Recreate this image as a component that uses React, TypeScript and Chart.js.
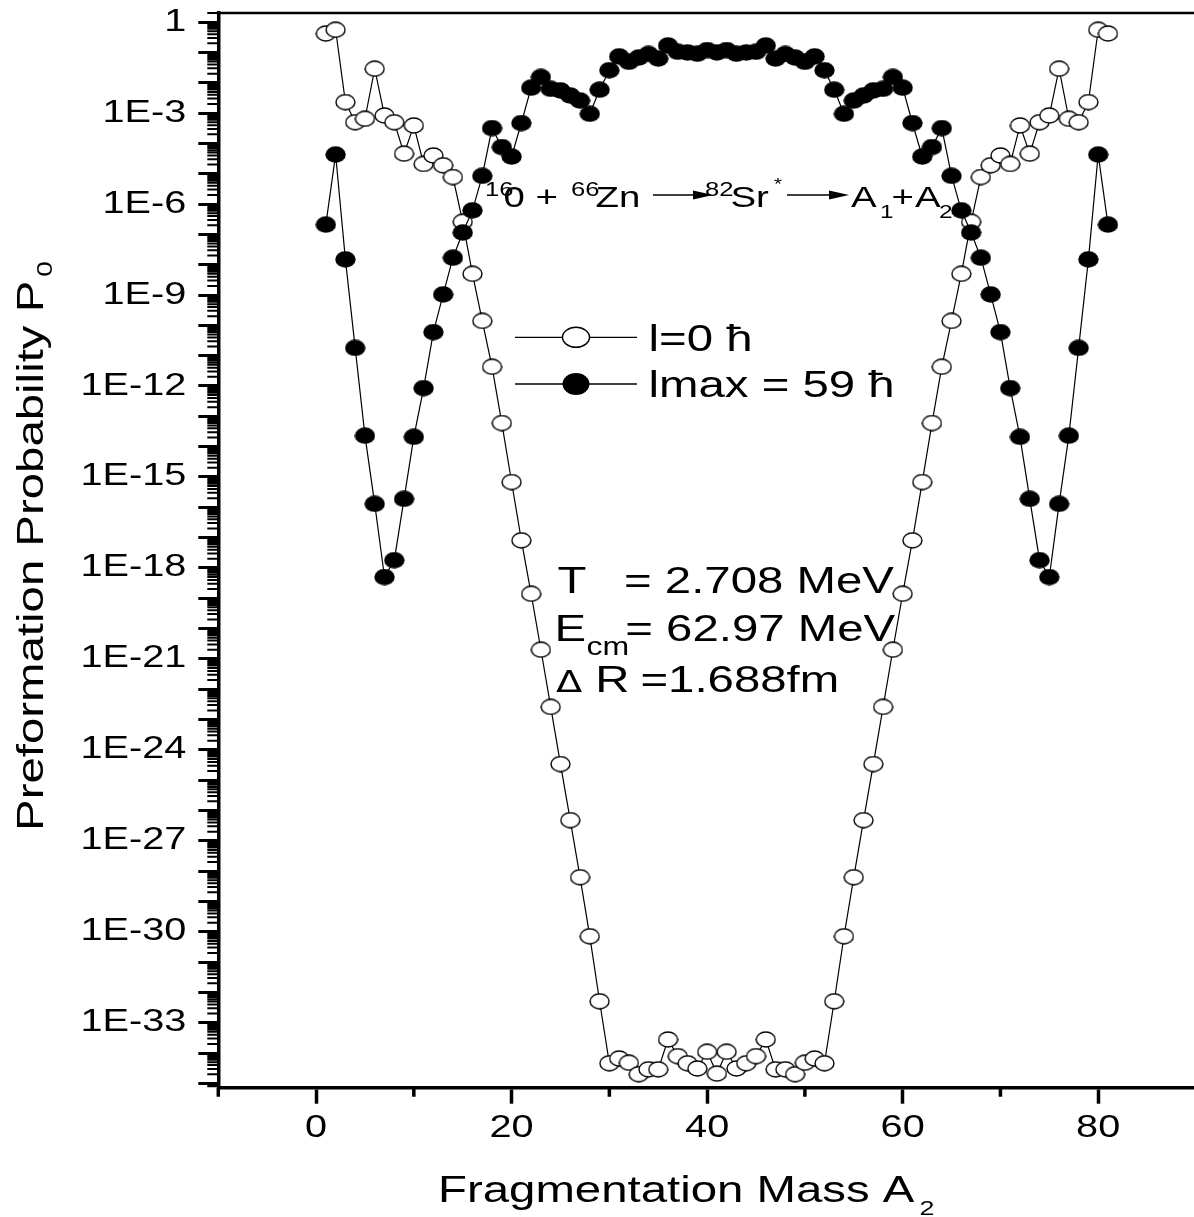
import React, { useEffect, useRef } from "react";
import { Chart, registerables } from "chart.js";

Chart.register(...registerables);

// ---------------- data ----------------
const massA2 = [
  1, 2, 3, 4, 5, 6, 7, 8, 9, 10, 11, 12, 13, 14, 15, 16, 17, 18, 19, 20,
  21, 22, 23, 24, 25, 26, 27, 28, 29, 30, 31, 32, 33, 34, 35, 36, 37, 38, 39, 40,
  41, 42, 43, 44, 45, 46, 47, 48, 49, 50, 51, 52, 53, 54, 55, 56, 57, 58, 59, 60,
  61, 62, 63, 64, 65, 66, 67, 68, 69, 70, 71, 72, 73, 74, 75, 76, 77, 78, 79, 80, 81,
];

// l = 0 hbar (open circles)
const p0L0 = [
  4.2e-1, 5.6e-1, 2.3e-3, 5.0e-4, 6.5e-4, 2.9e-2, 8.3e-4, 5.0e-4, 4.6e-5, 3.9e-4,
  2.1e-5, 4.0e-5, 1.9e-5, 7.8e-6, 2.6e-7, 5.0e-9, 1.4e-10, 4.3e-12, 6.0e-14, 6.8e-16,
  8.1e-18, 1.4e-19, 2.0e-21, 2.6e-23, 3.4e-25, 4.8e-27, 6.3e-29, 7.1e-31, 5.1e-33, 4.6e-35,
  6.6e-35, 4.8e-35, 2.0e-35, 2.9e-35, 2.9e-35, 2.8e-34, 7.9e-35, 4.6e-35, 3.1e-35, 1.1e-34,
  2.1e-35,
  1.1e-34, 3.1e-35, 4.6e-35, 7.9e-35, 2.8e-34, 2.9e-35, 2.9e-35, 2.0e-35, 4.8e-35, 6.6e-35,
  4.6e-35, 5.1e-33, 7.1e-31, 6.3e-29, 4.8e-27, 3.4e-25, 2.6e-23, 2.0e-21, 1.4e-19, 8.1e-18,
  6.8e-16, 6.0e-14, 4.3e-12, 1.4e-10, 5.0e-9, 2.6e-7, 7.8e-6, 1.9e-5, 4.0e-5, 2.1e-5,
  3.9e-4, 4.6e-5, 5.0e-4, 8.3e-4, 2.9e-2, 6.5e-4, 5.0e-4, 2.3e-3, 5.6e-1, 4.2e-1,
];

// lmax = 59 hbar (filled circles)
const p0Lmax = [
  2.1e-7, 4.3e-5, 1.5e-8, 1.8e-11, 2.3e-14, 1.3e-16, 5.0e-19, 1.8e-18, 1.9e-16, 2.1e-14,
  8.5e-13, 6.0e-11, 1.05e-9, 1.7e-8, 1.15e-7, 6.2e-7, 8.5e-6, 3.2e-4, 7.6e-5, 3.7e-5,
  4.7e-4, 6.9e-3, 1.55e-2, 6.3e-3, 5.6e-3, 3.8e-3, 2.6e-3, 9.5e-4, 5.9e-3, 2.6e-2,
  7.4e-2, 4.9e-2, 6.8e-2, 8.9e-2, 6.3e-2, 1.7e-1, 1.05e-1, 1.0e-1, 9.1e-2, 1.2e-1,
  1.0e-1,
  1.2e-1, 9.1e-2, 1.0e-1, 1.05e-1, 1.7e-1, 6.3e-2, 8.9e-2, 6.8e-2, 4.9e-2, 7.4e-2,
  2.6e-2, 5.9e-3, 9.5e-4, 2.6e-3, 3.8e-3, 5.6e-3, 6.3e-3, 1.55e-2, 6.9e-3, 4.7e-4,
  3.7e-5, 7.6e-5, 3.2e-4, 8.5e-6, 6.2e-7, 1.15e-7, 1.7e-8, 1.05e-9, 6.0e-11, 8.5e-13,
  2.1e-14, 1.9e-16, 1.8e-18, 5.0e-19, 1.3e-16, 2.3e-14, 1.8e-11, 1.5e-8, 4.3e-5, 2.1e-7,
];

const seriesLabels = ["l=0 \u0127", "lmax = 59 \u0127"];

const xTickValues = [0, 20, 40, 60, 80];
const xMinorTickValues = [-10, 10, 30, 50, 70];
const yLabelledExponents = [0, -3, -6, -9, -12, -15, -18, -21, -24, -27, -30, -33];
const yTickLabels = [
  "1", "1E-3", "1E-6", "1E-9", "1E-12", "1E-15", "1E-18", "1E-21", "1E-24", "1E-27", "1E-30", "1E-33",
];

const xTitle = "Fragmentation Mass A";
const xTitleSub = "2";
const yTitle = "Preformation Probability P";
const yTitleSub = "0";

// ---------------- layout / style ----------------
const W = 1194;
const H = 1217;
const SX = 1.28; // horizontal stretch of all text (as in the reference)
const FONT = '"Liberation Sans", Arial, Helvetica, sans-serif';
const PLOT_TOP = 13;
const PLOT_LEFT = 218.3;
const PLOT_BOTTOM = 1087.7;

function makeEllipse(w: number, h: number, filled: boolean, lw: number) {
  const c = document.createElement("canvas");
  c.width = w;
  c.height = h;
  const g = c.getContext("2d")!;
  g.beginPath();
  g.ellipse(w / 2, h / 2, w / 2 - lw / 2 - 0.3, h / 2 - lw / 2 - 0.3, 0, 0, Math.PI * 2);
  if (filled) {
    g.fillStyle = "#000";
    g.fill();
  } else {
    g.fillStyle = "#fff";
    g.fill();
    g.lineWidth = lw;
    g.strokeStyle = "#000";
    g.stroke();
  }
  return c;
}

function drawEllipse(ctx: CanvasRenderingContext2D, x: number, y: number, w: number, h: number, filled: boolean) {
  ctx.beginPath();
  ctx.ellipse(x, y, w / 2, h / 2, 0, 0, Math.PI * 2);
  if (filled) {
    ctx.fillStyle = "#000";
    ctx.fill();
  } else {
    ctx.fillStyle = "#fff";
    ctx.fill();
    ctx.lineWidth = 1.5;
    ctx.strokeStyle = "#000";
    ctx.stroke();
  }
}

function txt(ctx: CanvasRenderingContext2D, s: string, x: number, y: number, size: number, family: string = FONT) {
  ctx.font = `${size}px ${family}`;
  ctx.textAlign = "left";
  ctx.textBaseline = "alphabetic";
  ctx.fillStyle = "#000";
  ctx.fillText(s, x, y);
}

function arrow(ctx: CanvasRenderingContext2D, x1: number, x2: number, y: number) {
  ctx.strokeStyle = "#000";
  ctx.fillStyle = "#000";
  ctx.lineWidth = 1.6;
  ctx.beginPath();
  ctx.moveTo(x1, y);
  ctx.lineTo(x2 - 12, y);
  ctx.stroke();
  ctx.beginPath();
  ctx.moveTo(x2, y);
  ctx.lineTo(x2 - 20, y - 4.5);
  ctx.lineTo(x2 - 20, y + 4.5);
  ctx.closePath();
  ctx.fill();
}

const overlayPlugin = {
  id: "overlay",
  beforeDatasetsDraw(chart: any) {
    const ctx: CanvasRenderingContext2D = chart.ctx;
    const { left, top, bottom } = chart.chartArea;
    const xs = chart.scales.x;
    const ys = chart.scales.y;
    ctx.save();

    // top frame line
    ctx.strokeStyle = "#000";
    ctx.lineWidth = 2.7;
    ctx.beginPath();
    ctx.moveTo(left - 1.7, top);
    ctx.lineTo(W, top);
    ctx.stroke();

    // minor y ticks
    ctx.lineWidth = 2;
    ctx.beginPath();
    for (let e = -36; e <= 0; e++) {
      for (let m = 2; m <= 9; m++) {
        const v = m * Math.pow(10, e);
        if (v < ys.min || v > ys.max) continue;
        const py = ys.getPixelForValue(v);
        ctx.moveTo(left - 11, py);
        ctx.lineTo(left, py);
      }
    }
    ctx.stroke();

    // minor x ticks
    ctx.lineWidth = 3.5;
    ctx.beginPath();
    for (const v of xMinorTickValues) {
      const px = xs.getPixelForValue(v);
      ctx.moveTo(px, bottom);
      ctx.lineTo(px, bottom + 9);
    }
    ctx.stroke();

    // reaction text
    txt(ctx, "16", 485, 196, 20);
    txt(ctx, "0 +", 503.5, 207, 30);
    txt(ctx, "66", 571, 196, 20);
    txt(ctx, "Zn", 595.5, 207, 30);
    arrow(ctx, 653, 713, 195);
    txt(ctx, "82", 705, 196, 20);
    txt(ctx, "Sr", 730.5, 207, 30);
    txt(ctx, "*", 774, 190, 16);
    arrow(ctx, 787, 849, 195);
    txt(ctx, "A", 851, 207, 30);
    txt(ctx, "1", 880, 218, 19);
    txt(ctx, "+", 891.5, 207, 30);
    txt(ctx, "A", 915, 207, 30);
    txt(ctx, "2", 939, 218, 19);

    // legend
    const ds = chart.data.datasets;
    const legendRows = [
      { y: 337.3, filled: false, w: 27, h: 20, label: ds[1].label, base: 351 },
      { y: 384, filled: true, w: 27, h: 22, label: ds[0].label, base: 397.3 },
    ];
    for (const r of legendRows) {
      ctx.strokeStyle = "#000";
      ctx.lineWidth = 1.3;
      ctx.beginPath();
      ctx.moveTo(515, r.y);
      ctx.lineTo(637, r.y);
      ctx.stroke();
      drawEllipse(ctx, 576, r.y, r.w, r.h, r.filled);
      txt(ctx, r.label, 648.5, r.base, 37);
    }

    // parameters
    txt(ctx, "T", 557.5, 593.3, 37);
    txt(ctx, "= 2.708 MeV", 624, 593.3, 37);
    txt(ctx, "E", 554.5, 641, 37);
    txt(ctx, "cm", 586.5, 655, 25);
    txt(ctx, "= 62.97 MeV", 625.3, 641, 37);
    txt(ctx, "\u0394", 556, 692.3, 30, '"DejaVu Sans", sans-serif');
    txt(ctx, "R", 595.2, 692.3, 37);
    txt(ctx, "=1.688fm", 640.4, 692.3, 37);

    // x title
    txt(ctx, xTitle, 438, 1202, 37);
    ctx.font = `37px ${FONT}`;
    const xtW = ctx.measureText(xTitle).width * SX;
    txt(ctx, xTitleSub, 438 + xtW + 5, 1215, 21);

    // y title (rotated)
    ctx.save();
    ctx.font = `37px ${FONT}`;
    const ytW = ctx.measureText(yTitle).width * SX;
    ctx.font = `22px ${FONT}`;
    const ysW = ctx.measureText(yTitleSub).width * SX;
    const total = ytW + 4 + ysW;
    const cy = 546;
    ctx.translate(43, cy + total / 2);
    ctx.rotate(-Math.PI / 2);
    txt(ctx, yTitle, 0, 0, 37);
    txt(ctx, yTitleSub, ytW + 4, 9, 22);
    ctx.restore();

    ctx.restore();
  },
};

export default function App() {
  const ref = useRef<HTMLCanvasElement>(null);

  useEffect(() => {
    const canvas = ref.current!;
    const ctx: any = canvas.getContext("2d");
    if (!ctx.__stretched) {
      const orig = ctx.fillText;
      ctx.fillText = function (text: string, x: number, y: number) {
        ctx.save();
        ctx.translate(x, y);
        ctx.scale(SX, 1);
        orig.call(ctx, text, 0, 0);
        ctx.restore();
      };
      ctx.__stretched = true;
    }

    const openMarker = makeEllipse(21, 17, false, 1.4);
    const filledMarker = makeEllipse(21, 17, true, 0);

    const decadeTicks: { value: number }[] = [];
    for (let e = 0; e >= -35; e--) decadeTicks.push({ value: Math.pow(10, e) });

    const chart = new Chart(ctx, {
      type: "line",
      data: {
        datasets: [
          {
            label: seriesLabels[1],
            data: massA2.map((a, i) => ({ x: a, y: p0Lmax[i] })),
            borderColor: "#000",
            borderWidth: 1.2,
            pointStyle: filledMarker as any,
            pointRadius: 10,
            order: 0,
          },
          {
            label: seriesLabels[0],
            data: massA2.map((a, i) => ({ x: a, y: p0L0[i] })),
            borderColor: "#000",
            borderWidth: 1.2,
            pointStyle: openMarker as any,
            pointRadius: 10,
            order: 1,
          },
        ],
      },
      options: {
        animation: false,
        responsive: false,
        devicePixelRatio: 1,
        layout: { autoPadding: false, padding: { top: PLOT_TOP, left: 0, right: 0, bottom: 0 } },
        plugins: { legend: { display: false }, tooltip: { enabled: false } },
        scales: {
          x: {
            type: "linear",
            min: -10,
            max: 89.8,
            afterBuildTicks: (s: any) => {
              s.ticks = xTickValues.map((v) => ({ value: v }));
            },
            afterFit: (s: any) => {
              s.height = H - PLOT_BOTTOM;
              s.paddingLeft = 0;
              s.paddingRight = 0;
            },
            ticks: {
              autoSkip: false,
              maxRotation: 0,
              color: "#000",
              padding: 6,
              font: { family: FONT, size: 31 },
              callback: (v: any) => String(v),
            },
            grid: {
              display: true,
              drawOnChartArea: false,
              drawTicks: true,
              tickLength: 16,
              tickWidth: 3.5,
              tickColor: "#000",
            },
            border: { display: true, color: "#000", width: 3.5 },
          },
          y: {
            type: "logarithmic",
            min: 7.2e-36,
            max: 2,
            afterBuildTicks: (s: any) => {
              s.ticks = decadeTicks.slice();
            },
            afterFit: (s: any) => {
              s.width = PLOT_LEFT;
              s.paddingTop = 0;
              s.paddingBottom = 0;
            },
            ticks: {
              autoSkip: false,
              color: "#000",
              padding: 12,
              font: { family: FONT, size: 31 },
              callback: (v: any) => {
                const e = Math.round(Math.log10(Number(v)));
                const i = yLabelledExponents.indexOf(e);
                return i >= 0 ? yTickLabels[i] : "";
              },
            },
            grid: {
              display: true,
              drawOnChartArea: false,
              drawTicks: true,
              tickLength: 20,
              tickWidth: 3,
              tickColor: "#000",
            },
            border: { display: true, color: "#000", width: 3.5 },
          },
        },
      } as any,
      plugins: [overlayPlugin],
    });

    return () => chart.destroy();
  }, []);

  return (
    <div style={{ position: "fixed", left: 0, top: 0, width: W, height: H, background: "#fff" }}>
      <canvas ref={ref} width={W} height={H} style={{ display: "block", width: W, height: H }} />
    </div>
  );
}
